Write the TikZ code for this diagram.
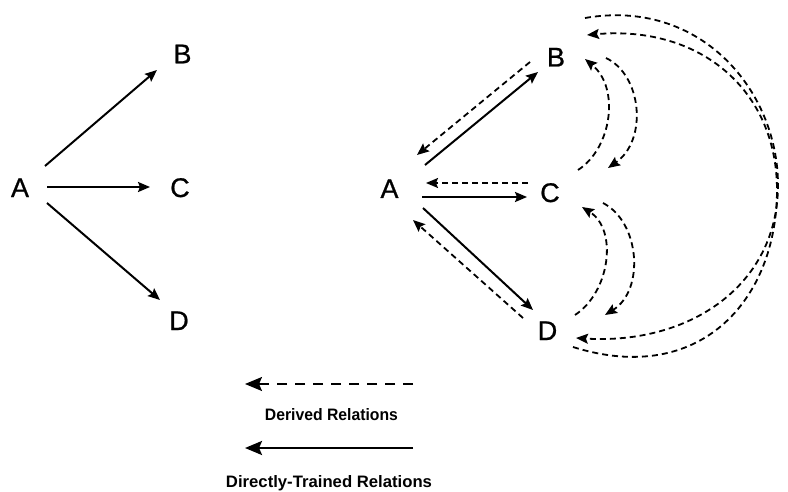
\documentclass[tikz,border=0pt]{standalone}
\usepackage{fontspec}
\setmainfont{Liberation Sans}
\newfontfamily\lblfont{Liberation Sans}[FakeBold=0.8]
\usetikzlibrary{arrows.meta,calc}
\begin{document}
\begin{tikzpicture}[x=1pt,y=-1pt,
  lbl/.style={font=\lblfont\fontsize{27}{30}\selectfont, inner sep=0pt, anchor=base},
  tip/.style={-{Stealth[length=12pt,width=10pt,inset=2pt]}},
  solidarr/.style={tip, line width=2pt},
  dasharr/.style={tip, line width=1.8pt, dash pattern=on 6pt off 4pt},
  bigtip/.style={-{Stealth[length=17pt,width=14pt,inset=3pt]}},
  legtext/.style={inner sep=0pt, anchor=base, font=\bfseries}
]
\fill[white] (0,0) rectangle (788,492);
\useasboundingbox (0,0) rectangle (788,492);

% left diagram
\node[lbl] (LA) at (20,197) {A};
\node[lbl] (LB) at (182.5,63.3) {B};
\node[lbl] (LC) at (180,197) {C};
\node[lbl] (LD) at (179,330) {D};
\draw[solidarr] ($(LA.base)+(25,-31)$) -- ($(LB.base)+(-25.5,6.7)$);
\draw[solidarr] ($(LA.base)+(27,-10)$) -- ($(LC.base)+(-30,-10)$);
\draw[solidarr] ($(LA.base)+(27,6)$) -- ($(LD.base)+(-19,-30)$);

% right diagram
\node[lbl] (RA) at (389.5,198) {A};
\node[lbl] (RB) at (556,66.5) {B};
\node[lbl] (RC) at (550,202) {C};
\node[lbl] (RD) at (547.5,340) {D};

\draw[solidarr] ($(RA.base)+(35.5,-33)$) -- ($(RB.base)+(-18,5.5)$);
\draw[dasharr] ($(RB.base)+(-26,-4.5)$) -- ($(RA.base)+(27.5,-43)$);
\draw[solidarr] ($(RA.base)+(32.5,-1)$) -- ($(RC.base)+(-23,-5)$);
\draw[dasharr] ($(RC.base)+(-22,-19)$) -- ($(RA.base)+(36.5,-15)$);
\draw[solidarr] ($(RA.base)+(33.5,10)$) -- ($(RD.base)+(-14.5,-30)$);
\draw[dasharr] ($(RD.base)+(-24.5,-22)$) -- ($(RA.base)+(23.5,22)$);

% inner arcs
\draw[dasharr] ($(RC.base)+(28,-32)$) .. controls +(34,-22) and +(35,29) .. ($(RB.base)+(29,-7.5)$);
\draw[dasharr] ($(RB.base)+(50,-8.5)$) .. controls +(36,17) and +(40,-28) .. ($(RC.base)+(58,-34)$);
\draw[dasharr] ($(RD.base)+(27.5,-25)$) .. controls +(35,-23) and +(36,23) .. ($(RC.base)+(32,5)$);
\draw[dasharr] ($(RC.base)+(53,1)$) .. controls +(37,19) and +(40,-25) .. ($(RD.base)+(57.5,-25)$);

% outer arcs
\draw[dasharr] ($(RB.base)+(29,-48.5)$) .. controls +(115,-20) and +(0,-95) .. ($(RC.base)+(228,-17)$)
   .. controls +(0,100) and +(114,7) .. ($(RD.base)+(28.5,-2)$);
\draw[dasharr] ($(RD.base)+(25.5,7)$) .. controls +(127,40) and +(0,110) .. ($(RC.base)+(227,-12)$)
   .. controls +(0,-100) and +(113,-10) .. ($(RB.base)+(31,-31.5)$);

% legend
\coordinate (d1) at (413,384);
\coordinate (d2) at (245,384);
\coordinate (s1) at (413,448);
\coordinate (s2) at (245,448);
\draw[bigtip, line width=1.8pt, dash pattern=on 10pt off 8pt] (d1) -- (d2);
\draw[bigtip, line width=2.6pt] (s1) -- (s2);
\node[legtext] (dl) at (331.5,420) {\resizebox{133pt}{12pt}{Derived Relations}};
\node[legtext] (sl) at (329,487) {\resizebox{206pt}{12pt}{Directly-Trained Relations}};
\end{tikzpicture}
\end{document}
